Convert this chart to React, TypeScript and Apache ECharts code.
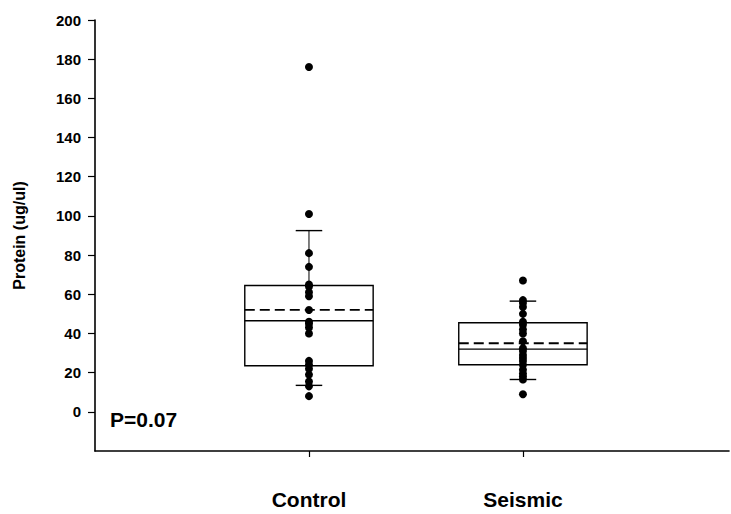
import React, { useEffect, useRef } from "react";
import * as echarts from "echarts";

const categories = ["Control", "Seismic"];
const yTicks = [0, 20, 40, 60, 80, 100, 120, 140, 160, 180, 200];

// [x, lowerWhisker, q1, median, q3, upperWhisker, mean]
const controlBox = [1, 13.5, 23.5, 46.5, 64.5, 92.5, 52];
const seismicBox = [2, 16.5, 24, 32, 45.5, 56.5, 35];

const controlPoints = [176, 101, 81, 74, 65, 64, 61, 59, 52, 46, 45, 43, 40, 26, 24, 22, 19, 15.5, 13, 8];
const seismicPoints = [67, 57, 55.5, 53.5, 50, 46, 44.5, 42, 40, 36, 32.5, 31, 29, 27.5, 26, 24, 21.5, 19.5, 18, 16.5, 9];

const pValueText = "P=0.07";

export default function App() {
  const ref = useRef<HTMLDivElement>(null);

  useEffect(() => {
    if (!ref.current) return;
    const chart = echarts.init(ref.current, null, { renderer: "svg" });
    const font = "'Liberation Sans', Arial, Helvetica, sans-serif";

    const scatterData = [
      ...controlPoints.map((v) => [1, v]),
      ...seismicPoints.map((v) => [2, v]),
    ];

    chart.setOption({
      animation: false,
      backgroundColor: "#ffffff",
      grid: { left: 95, right: 2, top: 20, bottom: 63, containLabel: false },
      xAxis: {
        type: "value",
        min: 0,
        max: 2.963,
        interval: 1,
        splitLine: { show: false },
        axisLine: { show: true, onZero: false, lineStyle: { color: "#000", width: 1.6 } },
        axisTick: { show: true, length: 6, customValues: [1, 2], lineStyle: { color: "#000", width: 1.2 } },
        axisLabel: {
          customValues: [1, 2],
          formatter: (v: number) => (v === 1 ? categories[0] : v === 2 ? categories[1] : ""),
          margin: 38,
          color: "#000",
          fontSize: 21,
          fontWeight: "bold",
          fontFamily: font,
        },
      },
      yAxis: {
        type: "value",
        min: -20,
        max: 200,
        interval: 20,
        splitLine: { show: false },
        name: "Protein (ug/ul)",
        nameLocation: "middle",
        nameGap: 68,
        nameTextStyle: { color: "#000", fontSize: 16, fontWeight: "bold", fontFamily: font },
        axisLine: { show: true, lineStyle: { color: "#000", width: 1.6 } },
        axisTick: { show: true, length: 7, customValues: yTicks, lineStyle: { color: "#000", width: 1.2 } },
        axisLabel: {
          customValues: yTicks,
          margin: 14,
          color: "#000",
          fontSize: 15,
          fontWeight: "bold",
          fontFamily: font,
        },
      },
      graphic: [
        {
          type: "text",
          left: 110,
          top: 409,
          style: { text: pValueText, fill: "#000", font: `bold 21px ${font}` },
        },
      ],
      series: [
        {
          type: "custom",
          data: [controlBox, seismicBox],
          encode: { x: 0, y: [1, 2, 3, 4, 5, 6] },
          z: 1,
          renderItem: (params: any, api: any) => {
            const x = api.value(0);
            const lo = api.value(1);
            const q1 = api.value(2);
            const med = api.value(3);
            const q3 = api.value(4);
            const hi = api.value(5);
            const mean = api.value(6);
            const halfW = 0.3;
            const capW = 0.062;
            const [xl, yq3] = api.coord([x - halfW, q3]);
            const [xr, yq1] = api.coord([x + halfW, q1]);
            const [xc, ymed] = api.coord([x, med]);
            const ymean = api.coord([x, mean])[1];
            const ylo = api.coord([x, lo])[1];
            const yhi = api.coord([x, hi])[1];
            const cl = api.coord([x - capW, 0])[0];
            const cr = api.coord([x + capW, 0])[0];
            const st = { stroke: "#000", lineWidth: 1.4, fill: null };
            return {
              type: "group",
              children: [
                { type: "rect", shape: { x: xl, y: yq3, width: xr - xl, height: yq1 - yq3 }, style: { stroke: "#000", lineWidth: 1.4, fill: "none" } },
                { type: "line", shape: { x1: xl, y1: ymed, x2: xr, y2: ymed }, style: st },
                { type: "line", shape: { x1: xl, y1: ymean, x2: xr, y2: ymean }, style: { stroke: "#000", lineWidth: 1.8, lineDash: [10, 5] } },
                { type: "line", shape: { x1: xc, y1: yq3, x2: xc, y2: yhi }, style: { stroke: "#000", lineWidth: 1 } },
                { type: "line", shape: { x1: xc, y1: yq1, x2: xc, y2: ylo }, style: { stroke: "#000", lineWidth: 1 } },
                { type: "line", shape: { x1: cl, y1: yhi, x2: cr, y2: yhi }, style: st },
                { type: "line", shape: { x1: cl, y1: ylo, x2: cr, y2: ylo }, style: st },
              ],
            };
          },
        },
        {
          type: "scatter",
          data: scatterData,
          symbol: "circle",
          symbolSize: 8,
          itemStyle: { color: "#000", opacity: 1 },
          z: 3,
        },
      ],
    });

    return () => chart.dispose();
  }, []);

  return (
    <div
      ref={ref}
      style={{ position: "fixed", left: 0, top: 0, width: 731, height: 514, background: "#fff" }}
    />
  );
}
